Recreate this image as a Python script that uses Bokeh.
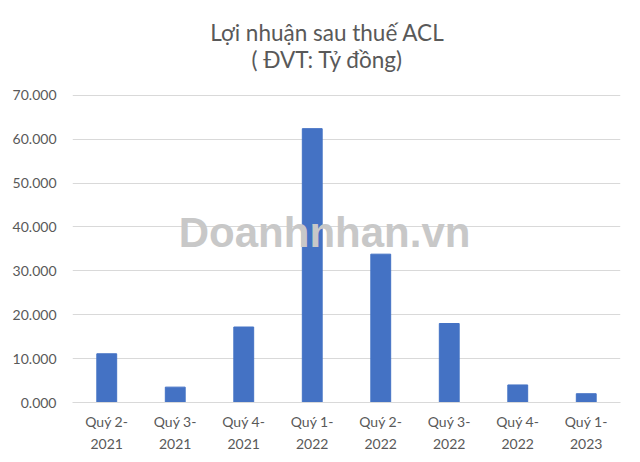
from bokeh.plotting import figure
from bokeh.models import FactorRange, Range1d, FixedTicker, Label
from bokeh.embed import file_html
from bokeh.resources import INLINE

# ---- data ----
quarters = ["Quý 2-\n2021", "Quý 3-\n2021", "Quý 4-\n2021", "Quý 1-\n2022",
            "Quý 2-\n2022", "Quý 3-\n2022", "Quý 4-\n2022", "Quý 1-\n2023"]
profit = [11.1, 3.5, 17.2, 62.4, 33.8, 18.0, 4.0, 2.0]
y_ticks = [0, 10, 20, 30, 40, 50, 60, 70]
y_tick_labels = ["0.000", "10.000", "20.000", "30.000", "40.000", "50.000", "60.000", "70.000"]
title_line1 = "Lợi nhuận sau thuế ACL"
title_line2 = "( ĐVT: Tỷ đồng)"
watermark = "Doanhnhan.vn"

FONT = "Lato"
GREY = "#595959"

# the frame reaches the top of the canvas so the title can sit inside it;
# gridlines are only drawn at the 0..70 ticks
p = figure(width=640, height=462, x_range=FactorRange(*quarters),
           y_range=Range1d(0, 91.6), output_backend="svg", toolbar_location=None,
           min_border_left=72, min_border_right=20, min_border_top=0,
           min_border_bottom=60)
p.title.visible = False

p.vbar(x=quarters, top=profit, width=0.29, color="#4472C4")

for txt, yy in ((title_line1, 84.4), (title_line2, 78.2)):
    p.add_layout(Label(x=3.72, y=yy, text=txt, text_font=FONT, text_font_size="22.5px",
                       text_color=GREY, text_align="center", text_baseline="middle"))

p.add_layout(Label(x=3.68, y=38.8, text=watermark, text_font="Liberation Sans",
                   text_font_style="bold", text_font_size="42px", text_color="#c8c8c8",
                   text_align="center", text_baseline="middle"))

p.yaxis.ticker = FixedTicker(ticks=y_ticks)
p.yaxis.major_label_overrides = dict(zip(y_ticks, y_tick_labels))
p.yaxis.axis_line_color = None
p.yaxis.major_tick_line_color = None
p.yaxis.minor_tick_line_color = None
p.yaxis.major_label_standoff = 10
p.yaxis.major_label_text_font = FONT
p.yaxis.major_label_text_font_size = "14px"
p.yaxis.major_label_text_color = GREY

p.xaxis.axis_line_color = "#d9d9d9"
p.xaxis.major_tick_line_color = None
p.xaxis.minor_tick_line_color = None
p.xaxis.major_label_standoff = 4
p.xaxis.major_label_text_font = FONT
p.xaxis.major_label_text_font_size = "14px"
p.xaxis.major_label_text_color = GREY
p.xaxis.major_label_text_line_height = 1.3

p.xgrid.grid_line_color = None
p.ygrid.grid_line_color = "#d9d9d9"
p.ygrid.grid_line_width = 1
p.outline_line_color = None
p.x_range.range_padding = 0
p.x_range.group_padding = 0

open("out.html", "w").write(file_html(p, INLINE))
